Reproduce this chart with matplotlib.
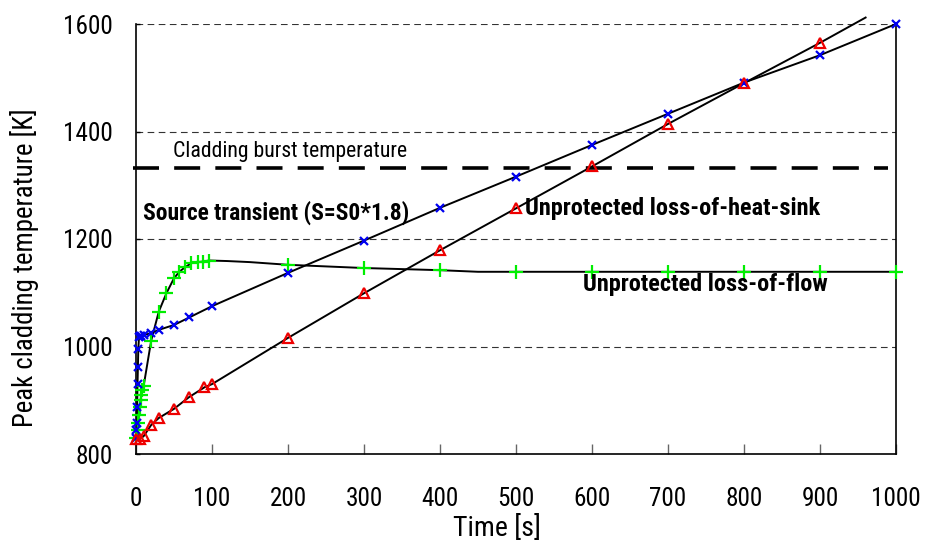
import matplotlib
matplotlib.use("Agg")
import matplotlib.pyplot as plt
from matplotlib import font_manager

# ---------------- data ----------------
# Source transient (S=S0*1.8) - blue x
src_t = [0, 0.5, 1, 1.5, 2, 2.5, 3, 4, 5, 7, 10, 20, 30, 50, 70, 100, 200, 300, 400, 500, 600, 700, 800, 900, 1000]
src_T = [829, 845, 857, 888, 930, 961, 995, 1018, 1020, 1020, 1021, 1025, 1031, 1040, 1054, 1075, 1137, 1197, 1258, 1316, 1375, 1433, 1491, 1542, 1600]

# Unprotected loss-of-heat-sink - red triangles
lohs_t = [0, 5, 10, 20, 30, 50, 70, 90, 100, 200, 300, 400, 500, 600, 700, 800, 900]
lohs_T = [828, 828, 833, 854, 867, 884, 906, 924, 930, 1016, 1099, 1179, 1257, 1335, 1414, 1490, 1565]
lohs_line_t = lohs_t + [960]
lohs_line_T = lohs_T + [1612]

# Unprotected loss-of-flow - green +
lof_t = [0, 2, 3, 4, 5, 6, 7, 8, 10, 20, 30, 40, 50, 57, 65, 73, 81, 88, 96, 200, 300, 400, 500, 600, 700, 800, 900, 1000]
lof_T = [829, 845, 857, 872, 888, 900, 910, 919, 926, 1011, 1065, 1099, 1127, 1139, 1148, 1155, 1157, 1158, 1159, 1152, 1146, 1142, 1139, 1139, 1139, 1139, 1139, 1139]
lof_line_t = [0, 2, 3, 4, 5, 6, 7, 8, 10, 20, 30, 40, 50, 57, 65, 73, 81, 88, 96, 120, 150, 200, 250, 300, 350, 400, 450, 500, 600, 700, 800, 900, 1000]
lof_line_T = [829, 845, 857, 872, 888, 900, 910, 919, 926, 1011, 1065, 1099, 1127, 1139, 1148, 1155, 1157, 1158, 1160, 1159, 1157, 1152, 1149, 1146, 1144, 1142, 1139, 1139, 1139, 1139, 1139, 1139, 1139]

burst_T = 1333

x_ticks = [0, 100, 200, 300, 400, 500, 600, 700, 800, 900, 1000]
y_ticks = [800, 1000, 1200, 1400, 1600]
grid_T = [1000, 1200, 1400, 1600]

# ---------------- fonts ----------------
ttfs = font_manager.fontManager.ttflist
names = {f.name for f in ttfs}
narrow = None
stretch = "normal"
for cand in ["Arial Narrow", "Liberation Sans Narrow", "Roboto Condensed",
             "PT Sans Narrow", "Archivo Narrow", "Pragati Narrow", "Open Sans Condensed"]:
    if cand in names:
        narrow = cand
        break
if narrow is None:
    if any(f.name == "Roboto" and f.stretch == "condensed" for f in ttfs):
        narrow, stretch = "Roboto", "condensed"
    else:
        narrow = "Liberation Sans"

W, H = 925, 550
fig = plt.figure(figsize=(9.25, 5.5), dpi=100)
ax = fig.add_axes([136/W, 1-454/H, (896-136)/W, (454-24)/H])

ax.set_xlim(0, 1000)
ax.set_ylim(800, 1600)

for g in grid_T:
    ax.axhline(g, color="#333333", lw=0.8, dashes=(6, 4), zorder=1)

ax.axhline(burst_T, xmin=-0.004, xmax=0.99, color="black", lw=2.6,
           dashes=(7.2, 4.2), clip_on=False, zorder=2)

# curves
ax.plot(src_t, src_T, color="black", lw=1.4, zorder=3)
ax.plot(lohs_line_t, lohs_line_T, color="black", lw=1.4, zorder=3, clip_on=False)
ax.plot(lof_line_t, lof_line_T, color="black", lw=1.4, zorder=3)

# markers
ax.plot(lof_t, lof_T, ls="none", marker="+", ms=9.5, mew=1.6, color="#00ee00", zorder=4, clip_on=False)
ax.plot(src_t, src_T, ls="none", marker="x", ms=6.2, mew=1.6, color="#0000ee", zorder=5, clip_on=False)
ax.plot(lohs_t, lohs_T, ls="none", marker="^", ms=6.5, mew=1.6, mfc="none", mec="#ee0000", zorder=6, clip_on=False)

# spines
ax.spines["top"].set_visible(False)
for s in ["left", "bottom", "right"]:
    ax.spines[s].set_linewidth(1.2)
    ax.spines[s].set_color("black")

ax.set_xticks(x_ticks)
ax.set_yticks(y_ticks)
ax.tick_params(axis="x", direction="in", length=7, width=1, color="#666666")
ax.tick_params(axis="y", direction="in", length=3, width=1)

xl = ax.set_xlabel("Time [s]", fontfamily=narrow, fontstretch=stretch, va="center")
ax.xaxis.set_label_coords((497-136)/760, -(529-454)/430)
yl = ax.set_ylabel("Peak cladding temperature [K]", fontfamily=narrow, fontstretch=stretch, va="center")
ax.yaxis.set_label_coords(-(136-24.5)/760, (454-268)/430)

t_burst = fig.text(173/W, 1-151/H, "Cladding burst temperature",
                   fontfamily=narrow, fontstretch=stretch, ha="left", va="center")
t_src = fig.text(143/W, 1-213/H, "Source transient (S=S0*1.8)", fontweight="bold",
                 fontfamily=narrow, fontstretch=stretch, ha="left", va="center")
t_lohs = fig.text(525/W, 1-208/H, "Unprotected loss-of-heat-sink", fontweight="bold",
                  fontfamily=narrow, fontstretch=stretch, ha="left", va="center")
t_lof = fig.text(583/W, 1-285/H, "Unprotected loss-of-flow", fontweight="bold",
                 fontfamily=narrow, fontstretch=stretch, ha="left", va="center")


def fit(txt, target, size0=16, vertical=False):
    txt.set_fontsize(size0)
    r = fig.canvas.get_renderer()
    bb = txt.get_window_extent(r)
    cur = bb.height if vertical else bb.width
    txt.set_fontsize(size0 * target / cur)
    return size0 * target / cur


fig.canvas.draw()
fit(t_burst, 236)
fit(t_src, 267)
fit(t_lohs, 294)
fit(t_lof, 244)
fit(xl, 88)
fit(yl, 320, vertical=True)

# tick labels: fit "1000" width to 50 px
probe = fig.text(0, 0, "1000", fontfamily=narrow, fontstretch=stretch)
tsize = fit(probe, 50)
probe.remove()
for lab in ax.get_xticklabels() + ax.get_yticklabels():
    lab.set_fontfamily(narrow)
    lab.set_fontstretch(stretch)
ax.tick_params(axis="both", labelsize=tsize)
ax.tick_params(axis="x", pad=24)
ax.tick_params(axis="y", pad=17)

fig.savefig("out.png", dpi=100)
